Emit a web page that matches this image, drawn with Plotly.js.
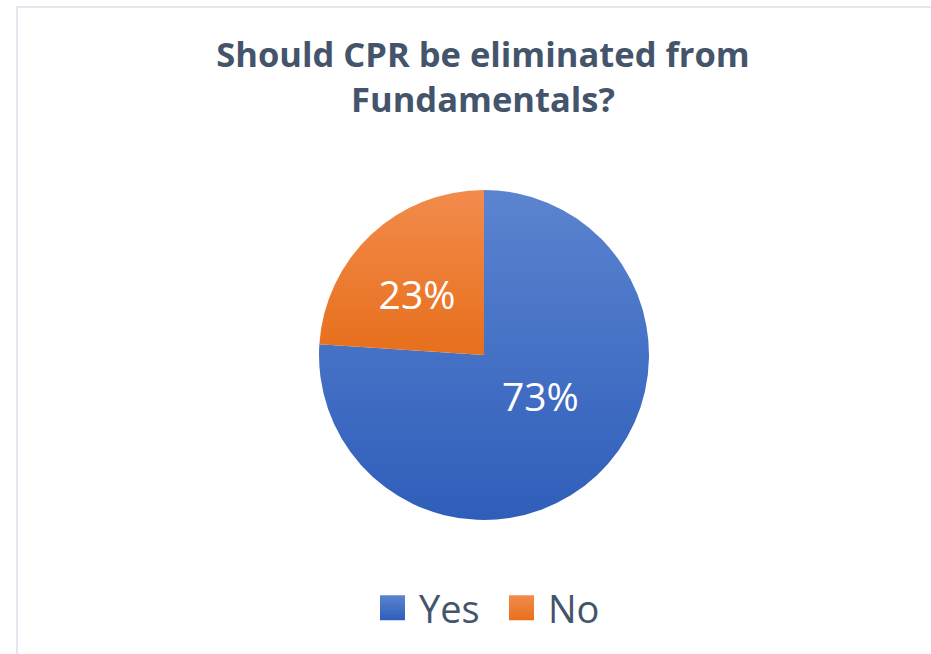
<!DOCTYPE html>
<html>
<head>
<meta charset="utf-8">
<script src="https://cdn.plot.ly/plotly-3.0.1.min.js"></script>
<style>
  html, body { margin: 0; padding: 0; background: #ffffff; }
  #chart { width: 931px; height: 654px; }
  #frame { position: absolute; left: 16px; top: 6px; width: 940px; height: 700px;
           border-left: 2px solid #e3e7ef; border-top: 2px solid #e3e7ef; pointer-events: none; }
</style>
</head>
<body>
<div id="chart"></div>
<div id="frame"></div>
<script>
const categories = ["Yes", "No"];
const values = [73, 23];
const sliceColors = ["#4472C4", "#ED7D31"];
const gradientTops = ["#5b84d0", "#f28b4c"];
const gradientBottoms = ["#2f5eba", "#e76f1c"];
const titleText = "Should CPR be eliminated from<br>Fundamentals?";

const W = 931, H = 654;
const cx = 484, cy = 355, R = 165;

const trace = {
  type: "pie",
  labels: categories,
  values: values,
  sort: false,
  direction: "clockwise",
  rotation: 0,
  marker: { colors: sliceColors, line: { width: 0 } },
  texttemplate: "%{value}%",
  textposition: "inside",
  insidetextorientation: "horizontal",
  textfont: { family: "Open Sans, sans-serif", size: 39, color: "#ffffff" },
  hoverinfo: "label+value",
  domain: {
    x: [(cx - R) / W, (cx + R) / W],
    y: [1 - (cy + R) / H, 1 - (cy - R) / H]
  }
};

const layout = {
  width: W,
  height: H,
  margin: { l: 0, r: 0, t: 0, b: 0 },
  paper_bgcolor: "#ffffff",
  title: {
    text: titleText,
    font: { family: "Open Sans, sans-serif", size: 34.5, color: "#44546A", weight: "bold" },
    x: 483 / W,
    xanchor: "center",
    y: 1 - 67 / H,
    yanchor: "top",
    yref: "container"
  },
  showlegend: true,
  legend: {
    orientation: "h",
    x: 379 / W,
    xanchor: "left",
    y: 1 - 608 / H,
    yanchor: "middle",
    font: { family: "Open Sans, sans-serif", size: 38, color: "#44546A" },
    entrywidth: 84,
    entrywidthmode: "pixels"
  }
};

Plotly.newPlot("chart", [trace], layout, { displayModeBar: false, staticPlot: true }).then(function () {
  const NS = "http://www.w3.org/2000/svg";
  const svg = document.querySelector("#chart svg.main-svg");
  let defs = svg.querySelector("defs");
  if (!defs) { defs = document.createElementNS(NS, "defs"); svg.insertBefore(defs, svg.firstChild); }
  categories.forEach(function (c, i) {
    const g = document.createElementNS(NS, "linearGradient");
    g.setAttribute("id", "grad" + i);
    g.setAttribute("x1", "0"); g.setAttribute("y1", "0");
    g.setAttribute("x2", "0"); g.setAttribute("y2", "1");
    const s1 = document.createElementNS(NS, "stop");
    s1.setAttribute("offset", "0"); s1.setAttribute("stop-color", gradientTops[i]);
    const s2 = document.createElementNS(NS, "stop");
    s2.setAttribute("offset", "1"); s2.setAttribute("stop-color", gradientBottoms[i]);
    g.appendChild(s1); g.appendChild(s2);
    defs.appendChild(g);
  });
  document.querySelectorAll("#chart g.slice path.surface").forEach(function (p, i) {
    p.style.fill = "url(#grad" + i + ")";
  });
  // nudge the inside labels toward where the reference places them
  const labelNudge = [-20, 10];
  document.querySelectorAll("#chart g.slice g.slicetext").forEach(function (t, i) {
    const old = t.getAttribute("transform") || "";
    t.setAttribute("transform", "translate(0," + labelNudge[i] + ") " + old);
  });
  document.querySelectorAll("#chart .legendpoints path").forEach(function (p, i) {
    p.setAttribute("d", "M6,12.5H-19V-12.5H6Z");
    p.style.fill = "url(#grad" + i + ")";
  });
});
</script>
</body>
</html>
